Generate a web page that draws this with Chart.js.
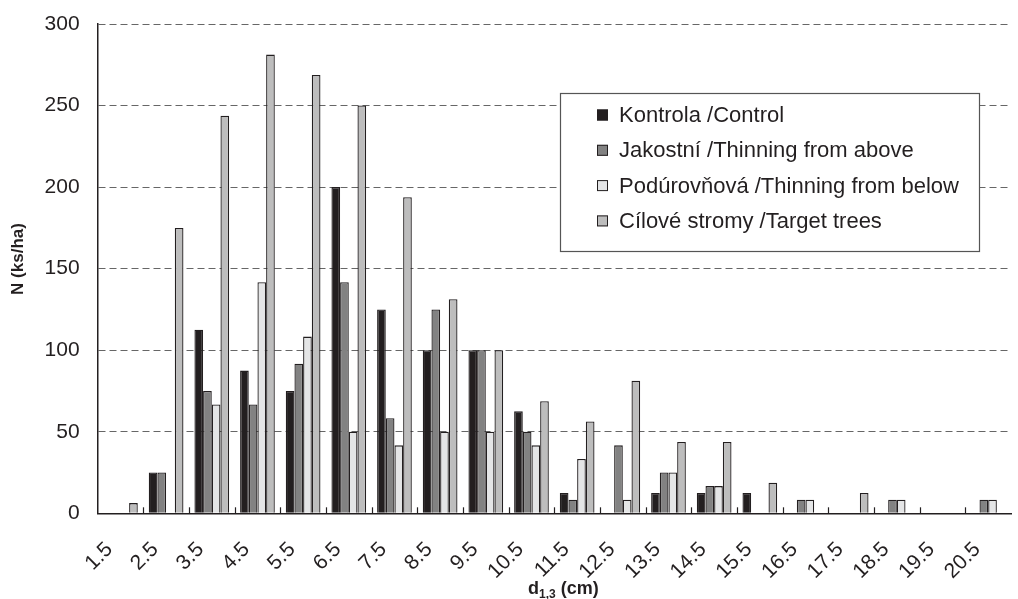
<!DOCTYPE html>
<html>
<head>
<meta charset="utf-8">
<script src="https://cdn.jsdelivr.net/npm/chart.js@4.4.1/dist/chart.umd.min.js"></script>
<style>
  html, body { margin: 0; padding: 0; background: #fff; overflow: hidden; }
  #wrap { position: relative; width: 1030px; height: 599px; }
</style>
</head>
<body>
<div id="wrap"><canvas id="chart"></canvas></div>
<script>
// diameter classes d1,3 (cm)
const diameters = ["1.5", "2.5", "3.5", "4.5", "5.5", "6.5", "7.5", "8.5", "9.5", "10.5",
                   "11.5", "12.5", "13.5", "14.5", "15.5", "16.5", "17.5", "18.5", "19.5", "20.5"]

// N (ks/ha) per treatment
const kontrola    = [0, 25, 112.5, 87.5, 75, 200, 125, 100, 100, 62.5, 12.5, 0, 12.5, 12.5, 12.5, 0, 0, 0, 0, 0]
const jakostni    = [0, 25, 75, 66.67, 91.67, 141.67, 58.33, 125, 100, 50, 8.33, 41.67, 25, 16.67, 0, 8.33, 0, 8.33, 0, 8.33]
const podurovnova = [0, 0, 66.67, 141.67, 108.33, 50, 41.67, 50, 50, 41.67, 33.33, 8.33, 25, 16.67, 0, 8.33, 0, 8.33, 0, 8.33]
const cilove      = [6.25, 175, 243.75, 281.25, 268.75, 250, 193.75, 131.25, 100, 68.75, 56.25, 81.25, 43.75, 43.75, 18.75, 0, 12.5, 0, 0, 0]

const yTicks = [0, 50, 100, 150, 200, 250, 300]

const ink = "#231f20"
const font = "'Liberation Sans', Arial, sans-serif"

// legend box, inner tick marks and axis titles
const extras = {
    id: "extras",
    afterDraw(chart) {
        const ctx = chart.ctx
        const x = chart.scales.x
        const area = chart.chartArea
        ctx.save()

        // short tick marks between categories, pointing into the plot
        const step = (x.right - x.left) / diameters.length
        ctx.strokeStyle = ink
        ctx.lineWidth = 1.2
        for (let i = 1; i < diameters.length; i++) {
            const px = Math.round(x.left + i * step) + 0.5
            ctx.beginPath()
            ctx.moveTo(px, area.bottom)
            ctx.lineTo(px, area.bottom - 6)
            ctx.stroke()
        }

        // legend
        const bx = 560, by = 93, bw = 419, bh = 158
        ctx.fillStyle = "#fff"
        ctx.fillRect(bx, by, bw, bh)
        ctx.strokeStyle = "#555"
        ctx.lineWidth = 1.2
        ctx.strokeRect(bx + 0.5, by + 0.5, bw, bh)
        ctx.font = "22px " + font
        ctx.textBaseline = "middle"
        ctx.textAlign = "left"
        chart.data.datasets.forEach((ds, i) => {
            const cy = 115 + i * 35.3
            ctx.fillStyle = ds.backgroundColor
            ctx.fillRect(597, cy - 5.5, 11, 11)
            ctx.strokeStyle = ink
            ctx.lineWidth = 1
            ctx.strokeRect(597.5, cy - 5, 10, 10)
            ctx.fillStyle = ink
            ctx.fillText(ds.label, 619, cy + 1)
        })

        // y axis title
        ctx.save()
        ctx.translate(18, 259)
        ctx.rotate(-Math.PI / 2)
        ctx.font = "bold 17px " + font
        ctx.textAlign = "center"
        ctx.fillStyle = ink
        ctx.fillText("N (ks/ha)", 0, 0)
        ctx.restore()

        // x axis title with subscript
        ctx.fillStyle = ink
        ctx.textBaseline = "alphabetic"
        let tx = 528
        const ty = 594
        ctx.font = "bold 18px " + font
        ctx.fillText("d", tx, ty)
        tx += ctx.measureText("d").width
        ctx.font = "bold 12px " + font
        ctx.fillText("1,3", tx, ty + 4)
        tx += ctx.measureText("1,3").width
        ctx.font = "bold 18px " + font
        ctx.fillText(" (cm)", tx, ty)

        ctx.restore()
    }
}

const makeSet = (label, data, color) => ({
    label: label,
    data: data,
    backgroundColor: color,
    borderColor: ink,
    borderWidth: 1.3,
    borderSkipped: "bottom",
    categoryPercentage: 0.76,
    barPercentage: 1.0
})

const chart = new Chart(document.getElementById("chart").getContext("2d"), {
    type: "bar",
    data: {
        labels: diameters,
        datasets: [
            makeSet("Kontrola /Control", kontrola, "#231f20"),
            makeSet("Jakostní /Thinning from above", jakostni, "#828282"),
            makeSet("Podúrovňová /Thinning from below", podurovnova, "#e4e5e6"),
            makeSet("Cílové stromy /Target trees", cilove, "#bdbdbd")
        ]
    },
    options: {
        responsive: true,
        maintainAspectRatio: false,
        devicePixelRatio: 1,
        animation: false,
        layout: { padding: { top: 24, right: 0, bottom: 0, left: 0 } },
        plugins: {
            legend: { display: false },
            tooltip: { enabled: false }
        },
        scales: {
            x: {
                type: "category",
                grid: { drawOnChartArea: false, drawTicks: false },
                border: { color: ink, width: 1.5 },
                ticks: {
                    font: { family: font, size: 21 },
                    color: ink,
                    minRotation: 45,
                    maxRotation: 45,
                    autoSkip: false,
                    padding: 24,
                    labelOffset: -11
                },
                afterFit: (scale) => { scale.height = 85.7 }
            },
            y: {
                min: 0,
                max: 300,
                afterBuildTicks: (scale) => { scale.ticks = yTicks.map(v => ({ value: v })) },
                grid: { color: "#666", lineWidth: 1, drawTicks: false },
                border: { color: ink, width: 1.5, dash: [7, 4] },
                ticks: {
                    font: { family: font, size: 21 },
                    color: ink,
                    padding: 18
                },
                afterFit: (scale) => {
                    scale.width = 97.6
                    scale.paddingTop = 0
                    scale.paddingBottom = 0
                }
            }
        }
    },
    plugins: [extras]
})
</script>
</body>
</html>
